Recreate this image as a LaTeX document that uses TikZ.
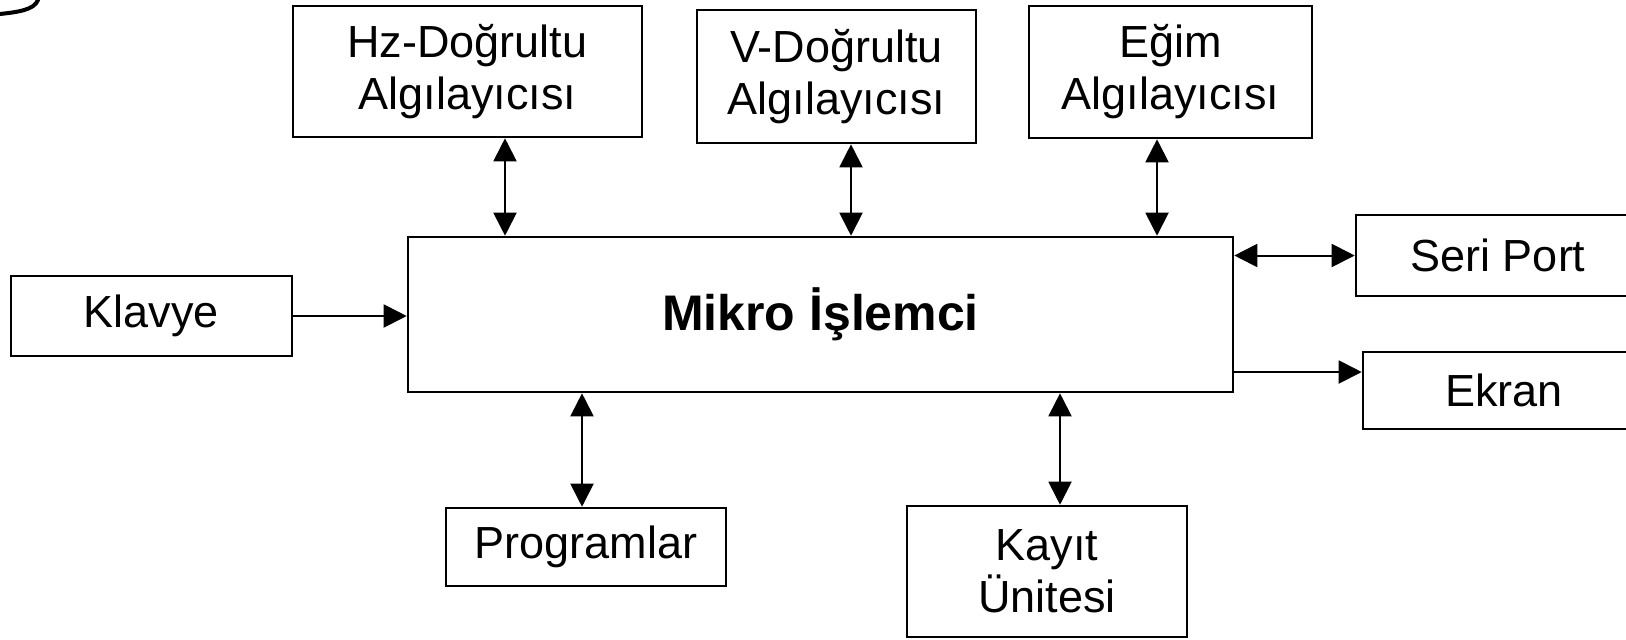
\documentclass[tikz,border=0pt]{standalone}
\usepackage{fontspec}
\setmainfont{Liberation Sans}
\usetikzlibrary{arrows.meta}

\begin{document}
\begin{tikzpicture}[
      x=0.5pt, y=-0.5pt,
      box/.style={
        rectangle, draw=black, line width=1.3pt, inner sep=0pt,
        font=\fontsize{22.5}{26}\selectfont, align=center
      },
      arrow/.style={-{Triangle[length=11.5pt, width=11.5pt]}, line width=1pt},
      dual/.style={{Triangle[length=11.5pt, width=11.5pt]}-{Triangle[length=11.5pt, width=11.5pt]}, line width=1pt}
    ]
      \useasboundingbox (0,0) rectangle (1626,639);

      \node[box, minimum width=412.5pt, minimum height=77.5pt, font=\fontsize{25}{30}\selectfont\bfseries] (cpu) at (820.5,314.5) {Mikro İşlemci};

      \node[box, minimum width=174.5pt, minimum height=65.5pt] (hz) at (467.5,71.5) {Hz-Doğrultu\\Algılayıcısı};
      \node[box, minimum width=139.5pt, minimum height=66.5pt] (vd) at (836.5,76.5) {V-Doğrultu\\Algılayıcısı};
      \node[box, minimum width=141.5pt, minimum height=66pt] (egim) at (1170.5,72) {Eğim\\Algılayıcısı};
      \node[box, minimum width=140.5pt, minimum height=40pt] (klavye) at (151.5,316) {Klavye};
      \node[box, minimum width=142pt, minimum height=40.5pt] (seri) at (1498,255.5) {Seri Port};
      \node[box, minimum width=141pt, minimum height=38.5pt] (ekran) at (1504,390.5) {Ekran};
      \node[box, minimum width=140pt, minimum height=39pt] (prog) at (586,547) {Programlar};
      \node[box, minimum width=140pt, minimum height=65.5pt] (kayit) at (1047,571.5) {Kayıt\\Ünitesi};

      % connector positions
      \coordinate (hzx) at (505,0);
      \coordinate (vdx) at (851,0);
      \coordinate (egimx) at (1157,0);
      \coordinate (progx) at (582,0);
      \coordinate (kayitx) at (1060,0);
      \coordinate (ekrany) at (0,372);

      \draw[dual] (hz.south -| hzx) -- (cpu.north -| hzx);
      \draw[dual] (vd.south -| vdx) -- (cpu.north -| vdx);
      \draw[dual] (egim.south -| egimx) -- (cpu.north -| egimx);
      \draw[dual] (cpu.south -| progx) -- (prog.north -| progx);
      \draw[dual] (cpu.south -| kayitx) -- (kayit.north -| kayitx);
      \draw[dual] (cpu.east |- seri.west) -- (seri.west);
      \draw[arrow] (klavye.east) -- (klavye.east -| cpu.west);
      \draw[arrow] (cpu.east |- ekrany) -- (ekran.west |- ekrany);

      % stray mark in the corner
      \draw[line width=2pt, line cap=round] (0,14) .. controls (18,12) and (34,10) .. (38,0);
    \end{tikzpicture}
\end{document}
